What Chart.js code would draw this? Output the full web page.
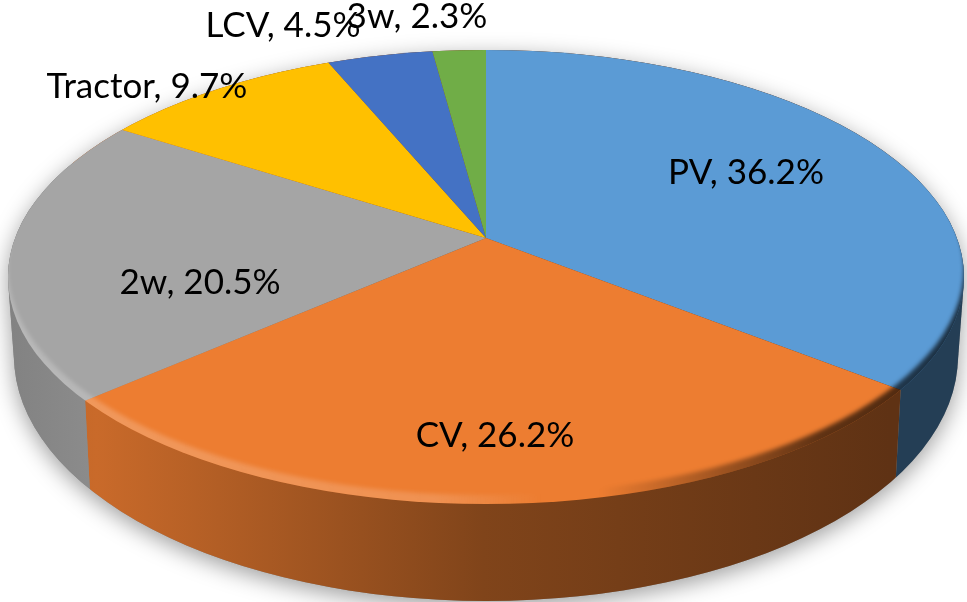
<!DOCTYPE html>
<html>
<head>
<meta charset="utf-8">
<title>Pie chart</title>
<script src="https://cdn.jsdelivr.net/npm/chart.js@4/dist/chart.umd.min.js"></script>
<style>
    html, body { margin: 0; padding: 0; background: #ffffff; }
    canvas { display: block; }
</style>
</head>
<body>
<canvas id="chart" width="967" height="602"></canvas>
<script>
// Data
const categories = ['PV', 'CV', '2w', 'Tractor', 'LCV', '3w'];
const shares = [36.2, 26.2, 20.5, 9.7, 4.5, 2.3];
const sliceColors = ['#5B9BD5', '#ED7D31', '#A5A5A5', '#FFC000', '#4472C4', '#70AD47'];

// Label centres, placed by hand like in the original
const labelCentres = [[746, 173], [495, 436], [200, 283], [147, 87], [283, 26], [417, 17]];

// Look of the tilted disc
const TOP_FACE = { cx: 486, cy: 277, rx: 478, ry: 227 };
const BASE_FACE = { cx: 486, cy: 356, rx: 472, ry: 245 };
const TILT_UPPER = 0.51; // perspective squashes the far half less
const TILT_LOWER = 0.42;
const WIDTH = 967;
const HEIGHT = 602;
// Light on the side wall, from left to right
const WALL_LIGHT = [[0, 0.78], [0.1, 0.85], [0.5, 0.54], [0.92, 0.40], [1, 0.40]];

function ellipsePath(ctx, e, dy) {
    ctx.ellipse(e.cx, e.cy + (dy || 0), e.rx, e.ry, 0, 0, Math.PI * 2);
}

// Where a slice edge meets the rim of the top face
function rimPoint(apex, angle) {
    const tilt = Math.cos(angle) > 0 ? TILT_UPPER : TILT_LOWER;
    const dx = Math.sin(angle) / TOP_FACE.rx;
    const dy = -Math.cos(angle) * tilt / TOP_FACE.ry;
    const ox = (apex.x - TOP_FACE.cx) / TOP_FACE.rx;
    const oy = (apex.y - TOP_FACE.cy) / TOP_FACE.ry;
    const a = dx * dx + dy * dy;
    const b = 2 * (ox * dx + oy * dy);
    const c = ox * ox + oy * oy - 1;
    const t = (-b + Math.sqrt(b * b - 4 * a * c)) / (2 * a);
    return { x: apex.x + t * dx * TOP_FACE.rx, y: apex.y + t * dy * TOP_FACE.ry };
}

function wallGradient(ctx, hex) {
    const r = parseInt(hex.slice(1, 3), 16);
    const g = parseInt(hex.slice(3, 5), 16);
    const b = parseInt(hex.slice(5, 7), 16);
    const grad = ctx.createLinearGradient(0, 0, WIDTH, 0);
    WALL_LIGHT.forEach(([stop, light]) => {
        grad.addColorStop(stop, `rgb(${Math.round(r * light)}, ${Math.round(g * light)}, ${Math.round(b * light)})`);
    });
    return grad;
}

function wallSilhouette(ctx) {
    ctx.beginPath();
    for (let i = 0; i <= 30; i++) {
        const f = i / 30;
        ctx.moveTo(TOP_FACE.cx + (BASE_FACE.cx - TOP_FACE.cx) * f + TOP_FACE.rx + (BASE_FACE.rx - TOP_FACE.rx) * f,
            TOP_FACE.cy + (BASE_FACE.cy - TOP_FACE.cy) * f);
        ctx.ellipse(
            TOP_FACE.cx + (BASE_FACE.cx - TOP_FACE.cx) * f,
            TOP_FACE.cy + (BASE_FACE.cy - TOP_FACE.cy) * f,
            TOP_FACE.rx + (BASE_FACE.rx - TOP_FACE.rx) * f,
            TOP_FACE.ry + (BASE_FACE.ry - TOP_FACE.ry) * f,
            0, 0, Math.PI * 2
        );
    }
}

// x of a slice edge on the wall, at a given height
function wallEdgeX(top, y) {
    const bottomX = BASE_FACE.cx + (top.x - TOP_FACE.cx) * BASE_FACE.rx / TOP_FACE.rx;
    return top.x + (bottomX - top.x) * (y - top.y) / 95;
}

function drawWalls(chart, ctx, arcs) {
    ctx.save();
    ctx.shadowColor = 'rgba(0, 0, 0, 0.38)';
    ctx.shadowBlur = 22;
    ctx.shadowOffsetY = 6;
    ctx.fillStyle = '#888888';
    wallSilhouette(ctx);
    ctx.fill('nonzero');
    ctx.restore();

    arcs.forEach((arc, i) => {
        // slice angles counted clockwise from the top, only the near half has a wall
        const start = Math.max(arc.startAngle + Math.PI / 2, Math.PI / 2);
        const end = Math.min(arc.endAngle + Math.PI / 2, Math.PI * 1.5);
        if (start >= end) return;

        const rightEdge = start > Math.PI / 2 ? rimPoint(arc, start) : null;
        const leftEdge = end < Math.PI * 1.5 ? rimPoint(arc, end) : null;

        ctx.save();
        ctx.beginPath();
        ctx.moveTo(leftEdge ? wallEdgeX(leftEdge, 0) : 0, 0);
        ctx.lineTo(rightEdge ? wallEdgeX(rightEdge, 0) : WIDTH, 0);
        ctx.lineTo(rightEdge ? wallEdgeX(rightEdge, HEIGHT) : WIDTH, HEIGHT);
        ctx.lineTo(leftEdge ? wallEdgeX(leftEdge, HEIGHT) : 0, HEIGHT);
        ctx.closePath();
        ctx.clip();
        ctx.fillStyle = wallGradient(ctx, sliceColors[i]);
        wallSilhouette(ctx);
        ctx.fill('nonzero');
        ctx.restore();
    });
}

// Draw the slices through the library, squashed about their centre and cut to the top face
function drawFace(chart, ctx, meta, apex, tilt, clipTop, clipBottom) {
    ctx.save();
    ctx.beginPath();
    ellipsePath(ctx, TOP_FACE);
    ctx.clip();
    ctx.beginPath();
    ctx.rect(0, clipTop, WIDTH, clipBottom - clipTop);
    ctx.clip();
    ctx.translate(apex.x, apex.y);
    ctx.scale(1, tilt);
    ctx.translate(-apex.x, -apex.y);
    meta.controller.draw();
    ctx.restore();
}

// Soft bevel along the near rim of the top face
function drawBevel(ctx) {
    const grad = ctx.createLinearGradient(0, 0, WIDTH, 0);
    grad.addColorStop(0, 'rgba(255, 255, 255, 0.22)');
    grad.addColorStop(0.45, 'rgba(255, 255, 255, 0.16)');
    grad.addColorStop(0.56, 'rgba(255, 255, 255, 0)');
    grad.addColorStop(0.62, 'rgba(0, 0, 0, 0)');
    grad.addColorStop(0.85, 'rgba(0, 0, 0, 0.6)');
    grad.addColorStop(1, 'rgba(0, 0, 0, 0.7)');

    ctx.save();
    ctx.beginPath();
    ellipsePath(ctx, TOP_FACE);
    ctx.clip();
    ctx.filter = 'blur(2px)';
    ctx.fillStyle = grad;
    ctx.beginPath();
    ctx.rect(-20, -20, WIDTH + 40, HEIGHT + 40);
    ellipsePath(ctx, TOP_FACE, -9);
    ctx.fill('evenodd');
    ctx.restore();
}

const discPlugin = {
    id: 'disc',
    beforeDatasetsDraw(chart) {
        const ctx = chart.ctx;
        const meta = chart.getDatasetMeta(0);
        const apex = meta.data[0];
        drawWalls(chart, ctx, meta.data);
        drawFace(chart, ctx, meta, apex, TILT_UPPER, 0, Math.round(apex.y));
        drawFace(chart, ctx, meta, apex, TILT_LOWER, Math.round(apex.y), HEIGHT);
        drawBevel(ctx);
    },
    // slices are already drawn above
    beforeDatasetDraw() {
        return false;
    },
    afterDatasetsDraw(chart) {
        const ctx = chart.ctx;
        ctx.save();
        ctx.font = '35px Lato';
        ctx.fillStyle = '#000000';
        ctx.textAlign = 'center';
        ctx.textBaseline = 'middle';
        categories.forEach((name, i) => {
            ctx.fillText(`${name}, ${shares[i].toFixed(1)}%`, labelCentres[i][0], labelCentres[i][1]);
        });
        ctx.restore();
    }
};

// Setup chart
function setupChart() {
    new Chart(document.getElementById('chart'), {
        type: 'pie',
        data: {
            labels: categories,
            datasets: [{
                data: shares,
                backgroundColor: sliceColors,
                borderWidth: 0,
                radius: 1200
            }]
        },
        options: {
            responsive: false,
            animation: false,
            events: [],
            layout: { padding: { left: 5, right: 0, top: 0, bottom: 126 } },
            plugins: {
                legend: { display: false },
                tooltip: { enabled: false }
            }
        },
        plugins: [discPlugin]
    });
}

document.fonts.load('35px Lato').finally(setupChart);
</script>
</body>
</html>
